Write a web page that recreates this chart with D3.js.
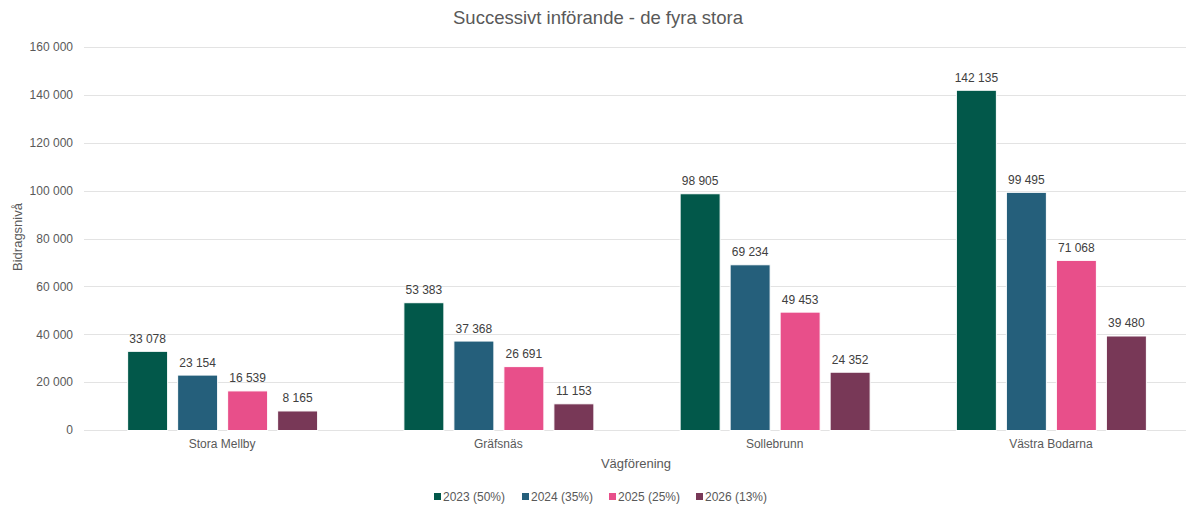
<!DOCTYPE html>
<html><head><meta charset="utf-8">
<script src="https://cdn.jsdelivr.net/npm/d3@7"></script>
<style>body{margin:0;background:#fff;} svg{display:block;font-family:"Liberation Sans",Arial,sans-serif;}</style>
</head><body>
<svg id="c" width="1186" height="508"></svg>
<script>
const categories = ["Stora Mellby","Gräfsnäs","Sollebrunn","Västra Bodarna"];
const seriesNames = ["2023 (50%)","2024 (35%)","2025 (25%)","2026 (13%)"];
const s2023 = [33078,53383,98905,142135];
const s2024 = [23154,37368,69234,99495];
const s2025 = [16539,26691,49453,71068];
const s2026 = [8165,11153,24352,39480];
const yTicks = [0,20000,40000,60000,80000,100000,120000,140000,160000];
const colors = ["#02584A","#255F7B","#E84F8A","#783857"];
const series = [s2023,s2024,s2025,s2026];

(function(){
const svg = d3.select("#c");
const pLeft=84, pRight=1189, pTop=47, pBottom=430;
const fmt = v => d3.format(",")(v).replace(/,/g," ");
const x = d3.scaleBand().domain(categories).range([pLeft,pRight]).paddingInner(0).paddingOuter(0);
const y = d3.scaleLinear().domain([0,160000]).range([pBottom,pTop]);
const inner = d3.scaleBand().domain(d3.range(4)).range([0,190]).paddingInner(0.2).paddingOuter(0);

svg.append("text").attr("x",598).attr("y",24).attr("text-anchor","middle")
  .attr("font-size",18.5).attr("fill","#595959").text("Successivt införande - de fyra stora");

svg.append("g").selectAll("line").data(yTicks).join("line")
  .attr("x1",pLeft).attr("x2",1186).attr("y1",d=>Math.round(y(d))+0.5).attr("y2",d=>Math.round(y(d))+0.5)
  .attr("stroke","#E3E3E3").attr("stroke-width",1);

const yAxis = d3.axisLeft(y).tickValues(yTicks).tickFormat(fmt).tickSize(0).tickPadding(0);
const ga = svg.append("g").attr("transform",`translate(${pLeft-11},0)`).call(yAxis);
ga.select(".domain").remove();
ga.selectAll("text").attr("font-size",12).attr("fill","#595959").attr("font-family","Liberation Sans, Arial, sans-serif");

const xAxis = d3.axisBottom(x).tickSize(0).tickPadding(0);
const gx = svg.append("g").attr("transform",`translate(0,${pBottom+9})`).call(xAxis);
gx.select(".domain").remove();
gx.selectAll("text").attr("font-size",12).attr("fill","#595959").attr("font-family","Liberation Sans, Arial, sans-serif");

series.forEach((s,i)=>{
  const g = svg.append("g");
  const bx = j => x(categories[j])+x.bandwidth()/2-95+inner(i);
  g.selectAll("rect").data(s).join("rect")
    .attr("x",(d,j)=>bx(j)+0.5)
    .attr("width",inner.bandwidth())
    .attr("y",d=>y(d)+0.5)
    .attr("height",d=>pBottom-y(d))
    .attr("fill",colors[i]).attr("stroke","#fff").attr("stroke-width",1);
  g.selectAll("text").data(s).join("text")
    .attr("x",(d,j)=>bx(j)+inner.bandwidth()/2+0.5)
    .attr("y",d=>y(d)-8)
    .attr("text-anchor","middle").attr("font-size",12).attr("fill","#404040")
    .text(d=>fmt(d));
});

svg.append("text").attr("transform","translate(22,237) rotate(-90)").attr("text-anchor","middle")
  .attr("font-size",13).attr("fill","#595959").text("Bidragsnivå");
svg.append("text").attr("x",636).attr("y",468).attr("text-anchor","middle")
  .attr("font-size",13).attr("fill","#595959").text("Vägförening");

const lx = [434,522,609,696];
const lg = svg.append("g");
seriesNames.forEach((n,i)=>{
  lg.append("rect").attr("x",lx[i]).attr("y",493).attr("width",7).attr("height",7).attr("fill",colors[i]);
  lg.append("text").attr("x",lx[i]+9).attr("y",501).attr("font-size",12).attr("fill","#595959").text(n);
});
})();
</script>
</body></html>
